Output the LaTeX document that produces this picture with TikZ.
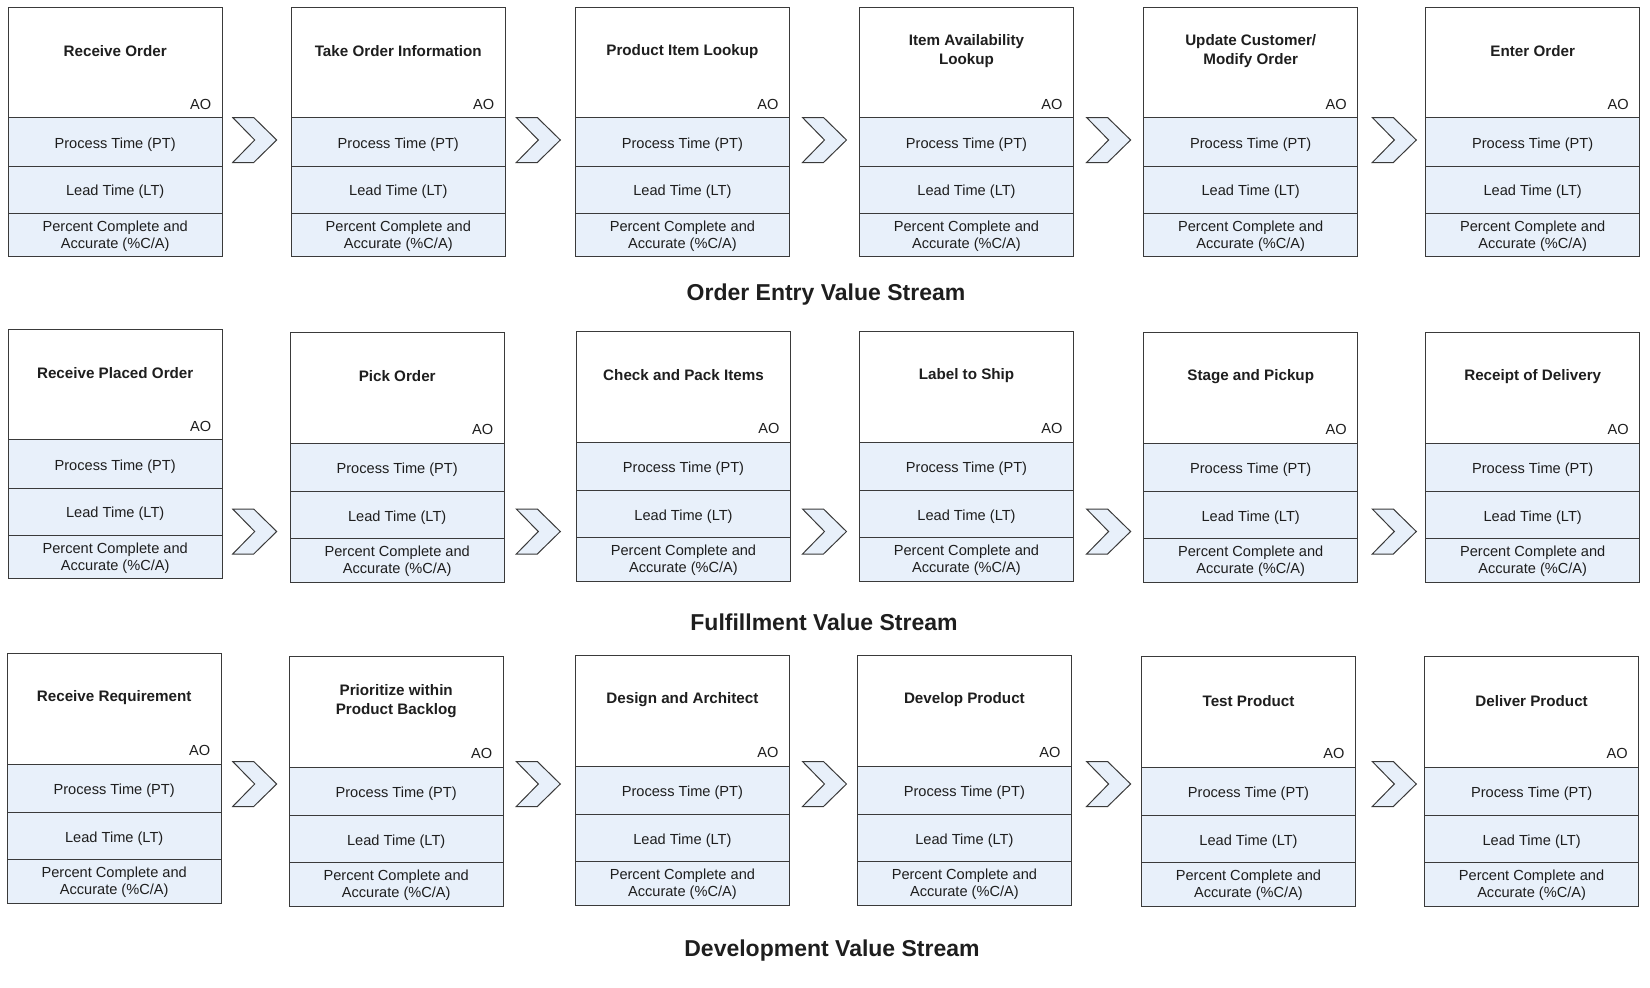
\documentclass[tikz,border=0pt]{standalone}
\usepackage{fontspec}
\setmainfont{Liberation Sans}
\definecolor{vsblue}{HTML}{E8F0FA}
\definecolor{vsline}{HTML}{3A3A3A}
\definecolor{vstext}{HTML}{1E1E1E}

% one process box: #1 name, #2 left x, #3 top y, #4 step title
\newcommand{\vsbox}[4]{%
\draw[boxline,fill=white] (#2,#3) rectangle ++(213.6,110.5);
\draw[boxline,fill=vsblue] (#2,#3+110.5) rectangle ++(213.6,48.4);
\draw[boxline,fill=vsblue] (#2,#3+158.9) rectangle ++(213.6,47.4);
\draw[boxline,fill=vsblue] (#2,#3+206.3) rectangle ++(213.6,43.2);
\node[steptitle] (#1-t) at (#2+106.8,#3+44) {#4};
\node[celltext,anchor=east] (#1-ao) at (#2+203,#3+97) {AO};
\node[celltext] (#1-pt) at (#2+106.8,#3+137.5) {Process Time (PT)};
\node[celltext] (#1-lt) at (#2+106.8,#3+184.8) {Lead Time (LT)};
\node[celltext] (#1-pc) at (#2+106.8,#3+229) {Percent Complete and\\Accurate (\%C/A)};
}

\begin{document}
\begin{tikzpicture}[x=1pt,y=-1pt,line join=miter,
  boxline/.style={draw=vsline,line width=1pt},
  chevron/.style={draw=vsline,line width=1pt,fill=vsblue},
  celltext/.style={inner sep=0pt,align=center,text=vstext,font=\fontsize{14.6}{17}\selectfont},
  steptitle/.style={inner sep=0pt,align=center,text=vstext,font=\fontsize{15.2}{19}\selectfont\bfseries},
  streamtitle/.style={inner sep=0pt,text=vstext,font=\fontsize{23}{27}\selectfont\bfseries}]
\useasboundingbox (0,0) rectangle (1650,988);

% Order Entry
\vsbox{oe1}{8.4}{7.4}{Receive Order}
\vsbox{oe2}{291.5}{7.4}{Take Order Information}
\vsbox{oe3}{575.6}{7.4}{Product Item Lookup}
\vsbox{oe4}{859.7}{7.4}{Item Availability\\Lookup}
\vsbox{oe5}{1143.9}{7.4}{Update Customer/\\Modify Order}
\vsbox{oe6}{1425.9}{7.4}{Enter Order}
\foreach \cx in {254.7,538.3,824.5,1108.6,1394.3}
\draw[chevron] (\cx-22,117.5) -- ++(21,0) -- ++(23,22.5) -- ++(-23,22.5) -- ++(-21,0) -- ++(22,-22.5) -- cycle;
\node[streamtitle] (oe) at (826,294.5) {Order Entry Value Stream};

% Fulfillment
\vsbox{ff1}{8.4}{329.4}{Receive Placed Order}
\vsbox{ff2}{290.4}{332.5}{Pick Order}
\vsbox{ff3}{576.7}{331.5}{Check and Pack Items}
\vsbox{ff4}{859.7}{331.5}{Label to Ship}
\vsbox{ff5}{1143.9}{332.5}{Stage and Pickup}
\vsbox{ff6}{1425.9}{332.5}{Receipt of Delivery}
\foreach \cx in {254.7,538.3,824.5,1108.6,1394.3}
\draw[chevron] (\cx-22,509) -- ++(21,0) -- ++(23,22.5) -- ++(-23,22.5) -- ++(-21,0) -- ++(22,-22.5) -- cycle;
\node[streamtitle] (ff) at (824,622.5) {Fulfillment Value Stream};

% Development
\vsbox{dv1}{7.4}{653.5}{Receive Requirement}
\vsbox{dv2}{289.4}{656.6}{Prioritize within\\Product Backlog}
\vsbox{dv3}{575.6}{655.6}{Design and Architect}
\vsbox{dv4}{857.6}{655.6}{Develop Product}
\vsbox{dv5}{1141.7}{656.6}{Test Product}
\vsbox{dv6}{1424.8}{656.6}{Deliver Product}
\foreach \cx in {254.7,538.3,824.5,1108.6,1394.3}
\draw[chevron] (\cx-22,761.5) -- ++(21,0) -- ++(23,22.5) -- ++(-23,22.5) -- ++(-21,0) -- ++(22,-22.5) -- cycle;
\node[streamtitle] (dv) at (832,951) {Development Value Stream};
\end{tikzpicture}
\end{document}
